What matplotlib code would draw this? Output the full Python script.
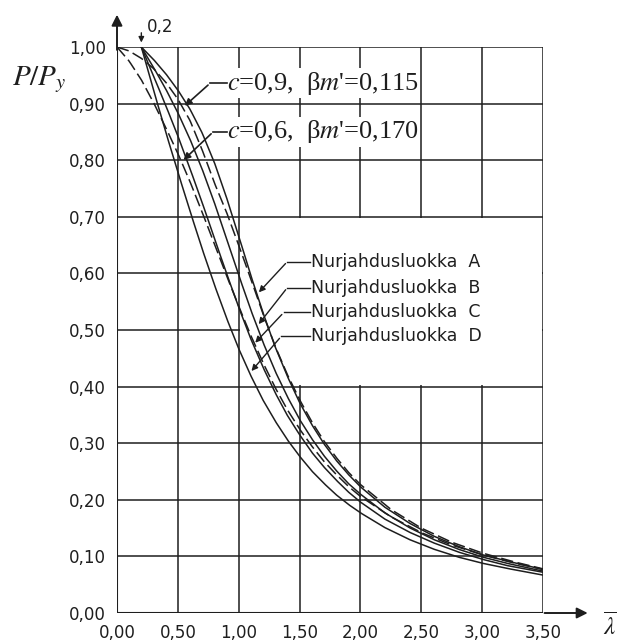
import numpy as np
import matplotlib.pyplot as plt
from matplotlib.patches import Rectangle

plt.rcParams['mathtext.fontset'] = 'stix'

# Nurjahduskäyrät A-D (luettu kuvasta)
lam = [0.2, 0.3, 0.4, 0.5, 0.6, 0.7, 0.8, 0.9, 1.0, 1.1, 1.2, 1.3, 1.4, 1.5,
       1.6, 1.7, 1.8, 1.9, 2.0, 2.2, 2.4, 2.6, 2.8, 3.0, 3.2, 3.5]
curve_a = [1.0, 0.978, 0.953, 0.924, 0.890, 0.848, 0.796, 0.734, 0.666, 0.596,
           0.530, 0.470, 0.418, 0.372, 0.333, 0.299, 0.270, 0.245, 0.223, 0.187,
           0.159, 0.136, 0.118, 0.103, 0.092, 0.077]
curve_b = [1.0, 0.964, 0.926, 0.884, 0.837, 0.784, 0.725, 0.661, 0.597, 0.535,
           0.478, 0.427, 0.382, 0.342, 0.308, 0.278, 0.252, 0.229, 0.210, 0.177,
           0.151, 0.130, 0.113, 0.099, 0.088, 0.074]
curve_c = [1.0, 0.949, 0.897, 0.843, 0.785, 0.725, 0.662, 0.600, 0.540, 0.484,
           0.434, 0.389, 0.349, 0.315, 0.284, 0.258, 0.235, 0.214, 0.196, 0.166,
           0.143, 0.124, 0.108, 0.095, 0.084, 0.072]
curve_d = [1.0, 0.924, 0.850, 0.779, 0.710, 0.643, 0.580, 0.521, 0.467, 0.419,
           0.376, 0.339, 0.306, 0.277, 0.251, 0.229, 0.209, 0.192, 0.177, 0.151,
           0.130, 0.113, 0.099, 0.088, 0.079, 0.067]

# katkoviivakäyrät c=0,9 ja c=0,6
lam_dash = [0.0, 0.1, 0.2, 0.3, 0.4, 0.5, 0.6, 0.7, 0.8, 0.9, 1.0, 1.1, 1.2, 1.3,
            1.4, 1.5, 1.6, 1.7, 1.8, 1.9, 2.0, 2.25, 2.5, 2.75, 3.0, 3.25, 3.5]
dash_c09 = [1.0, 0.993, 0.980, 0.962, 0.938, 0.908, 0.870, 0.818, 0.760, 0.708,
            0.650, 0.590, 0.528, 0.471, 0.421, 0.377, 0.338, 0.304, 0.275, 0.249,
            0.227, 0.183, 0.150, 0.125, 0.106, 0.091, 0.078]
dash_c06 = [1.0, 0.975, 0.942, 0.902, 0.858, 0.812, 0.762, 0.708, 0.652, 0.596,
            0.542, 0.490, 0.442, 0.398, 0.359, 0.325, 0.295, 0.268, 0.245, 0.224,
            0.206, 0.170, 0.142, 0.120, 0.103, 0.089, 0.077]

x_ticks = [0.0, 0.5, 1.0, 1.5, 2.0, 2.5, 3.0, 3.5]
y_ticks = [0.0, 0.1, 0.2, 0.3, 0.4, 0.5, 0.6, 0.7, 0.8, 0.9, 1.0]
class_names = ['Nurjahdusluokka  A', 'Nurjahdusluokka  B',
               'Nurjahdusluokka  C', 'Nurjahdusluokka  D']
class_text_y = [0.621, 0.575, 0.531, 0.489]
class_tip_x = [1.15, 1.15, 1.12, 1.09]
class_elbow_x = [1.40, 1.40, 1.37, 1.35]

INK = '#1e1e1e'


def smooth(xs, ys, n=400):
    '''Tiheämpi pisteistö piirtoa varten'''
    xx = np.linspace(xs[0], xs[-1], n)
    return xx, np.interp(xx, xs, ys)


fig = plt.figure(figsize=(6.27, 6.43), dpi=100)
ax = fig.add_axes([117 / 627, 1 - 613 / 643, 426 / 627, 566 / 643])
ax.set_xlim(0, 3.5)
ax.set_ylim(0, 1.0)

# ruudukko
for xv in x_ticks:
    ax.axvline(xv, color=INK, lw=1.1, zorder=1)
for yv in y_ticks:
    ax.axhline(yv, color=INK, lw=1.1, zorder=1)
# valkoinen alue selitteiden takana
ax.add_patch(Rectangle((1.01, 0.403), 2.48, 0.294, facecolor='white',
                       edgecolor='none', zorder=1.5))

for s in ax.spines.values():
    s.set_visible(False)
ax.axvline(0, color=INK, lw=1.5, zorder=1)
ax.axhline(0, color=INK, lw=1.5, zorder=1)

# käyrät
for ys in (curve_a, curve_b, curve_c, curve_d):
    xx, yy = smooth(lam, ys)
    ax.plot(xx, yy, color=INK, lw=1.1, zorder=3)
for ys in (dash_c09, dash_c06):
    xx, yy = smooth(lam_dash, ys)
    ax.plot(xx, yy, color=INK, lw=1.1, dashes=(8, 3), zorder=3)

ax.set_xticks(x_ticks)
ax.set_xticklabels([f'{v:.2f}'.replace('.', ',') for v in x_ticks])
ax.set_yticks(y_ticks)
ax.set_yticklabels([f'{v:.2f}'.replace('.', ',') for v in y_ticks])
ax.tick_params(length=0, labelsize=12, colors=INK)
ax.tick_params(axis='x', pad=8)
ax.tick_params(axis='y', pad=8)

# akselinuolet
arr = dict(arrowstyle='-|>', color=INK, lw=1.4, mutation_scale=16)
ax.annotate('', xy=(3.89, 0), xytext=(3.49, 0), arrowprops=arr,
            annotation_clip=False)
ax.annotate('', xy=(0, 1.062), xytext=(0, 0.99), arrowprops=arr,
            annotation_clip=False)
ax.annotate('', xy=(0.2, 1.003), xytext=(0.2, 1.03),
            arrowprops=dict(arrowstyle='-|>', color=INK, lw=1.0,
                            mutation_scale=8), annotation_clip=False)
ax.text(0.245, 1.035, '0,2', fontsize=12, color=INK, va='center', ha='left',
        clip_on=False)

# selitteet nurjahdusluokille
curves = [curve_a, curve_b, curve_c, curve_d]
for name, ty, tx, ex, ys in zip(class_names, class_text_y, class_tip_x,
                                class_elbow_x, curves):
    ax.text(1.59, ty, name, fontsize=12.5, color=INK, va='center', ha='left',
            zorder=4)
    ax.plot([ex, 1.585], [ty, ty], color=INK, lw=1.0, zorder=4)
    ax.annotate('', xy=(tx, np.interp(tx, lam, ys)), xytext=(ex, ty),
                arrowprops=dict(arrowstyle='-|>', color=INK, lw=1.0,
                                mutation_scale=9), zorder=4)

# c-parametrien selitteet
serif = 'Liberation Serif'
for ty, ex, tip_x, ys, txt in [
        (0.936, 0.765, 0.54, dash_c09, "$c$=0,9,  β$m$'=0,115"),
        (0.850, 0.790, 0.53, dash_c06, "$c$=0,6,  β$m$'=0,170")]:
    ax.text(0.905, ty, txt, fontsize=19, family=serif, color=INK,
            va='center', ha='left', zorder=4,
            bbox=dict(facecolor='white', edgecolor='none', pad=1))
    ax.plot([ex, 0.9], [ty, ty], color=INK, lw=1.2, zorder=4)
    ax.annotate('', xy=(tip_x, np.interp(tip_x, lam_dash, ys)),
                xytext=(ex, ty),
                arrowprops=dict(arrowstyle='-|>', color=INK, lw=1.2,
                                mutation_scale=10), zorder=4)

fig.text(12 / 627, 1 - 80 / 643, '$P/P_y$', fontsize=21, color=INK,
         va='center', ha='left')
fig.text(603 / 627, 1 - 640 / 643, r'$\overline{\lambda}$', fontsize=18,
         color=INK, va='bottom', ha='left')

fig.savefig('out.png', dpi=100)
